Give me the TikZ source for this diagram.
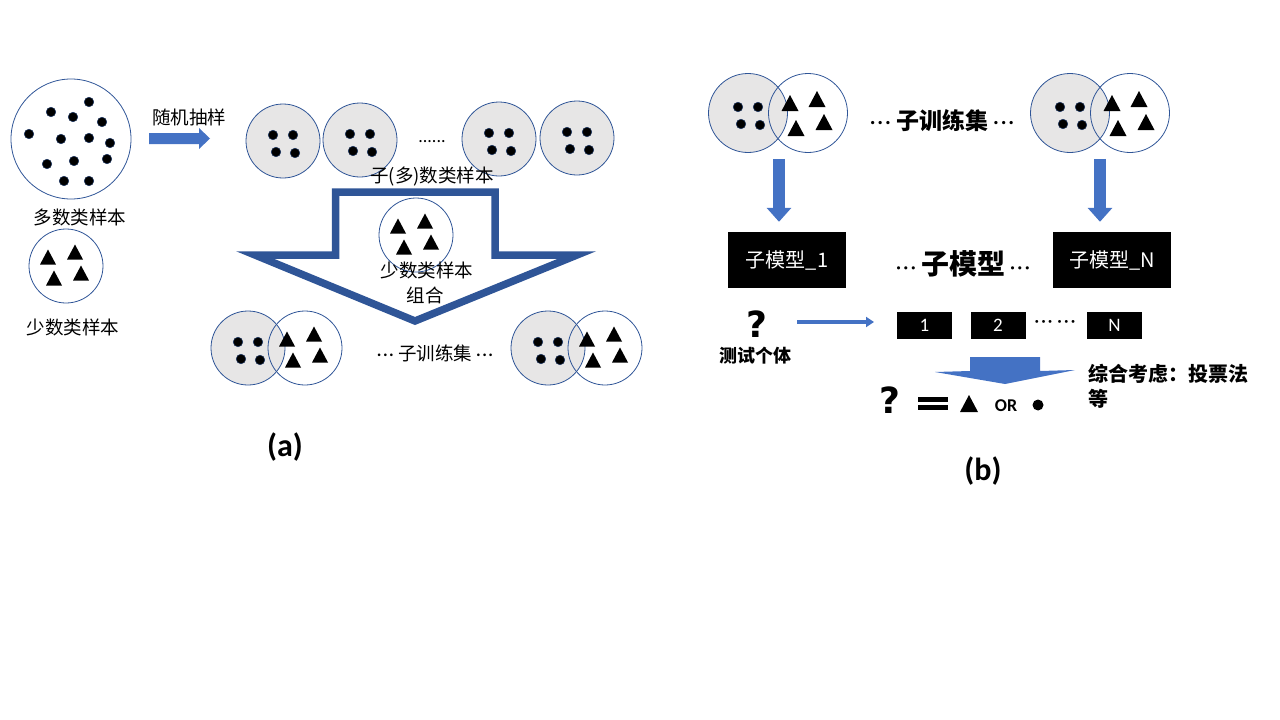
\documentclass[tikz,border=0pt]{standalone}
\usepackage{fontspec}
\setmainfont{Carlito}
\newfontfamily\cjk{Noto Sans CJK SC}
\newfontfamily\heavy{DejaVu Sans}
\usetikzlibrary{arrows.meta}
\definecolor{ringblue}{HTML}{2F5597}
\definecolor{fillgray}{HTML}{E7E6E6}
\definecolor{arrowblue}{HTML}{4472C4}
\definecolor{darkarrow}{HTML}{2F5597}
\definecolor{dotedge}{HTML}{1F3864}
\newcommand\md{{\rmfamily\mdseries ·\kern0.08em·\kern0.08em·}}
\newcommand\fourdots[1]{\foreach \dx/\dy in {-10/-6,10/-6,-7/11,12/12}
  \filldraw[dotsty] ([shift={(\dx,\dy)}]#1.center) circle (4.8pt);}
\newcommand\fourtris[1]{\foreach \dx/\dy in {-18/-9,9/-14,-12/12,15/7}
  \fill ([shift={(\dx,\dy)}]#1.center) ++(-8,7.5) -- ++(16,0) -- ++(-8,-15) -- cycle;}
\newcommand\fourtrisb[1]{\foreach \dx/\dy in {-18/-10,9/-14,-12/15,16/9}
  \fill ([shift={(\dx,\dy)}]#1.center) ++(-8.5,8) -- ++(17,0) -- ++(-8.5,-16) -- cycle;}
\begin{document}
\begin{tikzpicture}[x=1pt,y=-1pt,
  ring/.style={circle,draw=ringblue,line width=0.8pt,minimum size=74pt,inner sep=0pt},
  gring/.style={ring,fill=fillgray},
  bring/.style={ring,minimum size=79pt},
  gbring/.style={gring,minimum size=79pt},
  dotsty/.style={fill=black,draw=dotedge,line width=0.5pt},
  lab/.style={font=\cjk\fontsize{18.5}{20}\selectfont,inner sep=0pt},
  blab/.style={font=\cjk\bfseries\fontsize{18}{20}\selectfont,inner sep=0pt},
  blackbox/.style={fill=black,text=white,font=\cjk\fontsize{20}{22}\selectfont,minimum width=118pt,minimum height=56pt,inner sep=0pt},
  numbox/.style={fill=black,text=white,font=\fontsize{19}{21}\selectfont,minimum width=55pt,minimum height=27pt,inner sep=0pt},
  qmark/.style={font=\heavy\bfseries\fontsize{36}{38}\selectfont,inner sep=0pt},
  fatarr/.style={draw=arrowblue,line width=12pt,-{Triangle[length=14pt,width=24pt,color=arrowblue]}},
  thinarr/.style={draw=arrowblue,line width=3.2pt,-{Triangle[length=8pt,width=10pt,color=arrowblue]}},
  hollowarrow/.style={draw=darkarrow,line width=7.5pt,line join=miter},
]
\useasboundingbox (0,0) rectangle (1280,720);

% ---------------- (a) ----------------
\node[ring,minimum size=120pt] (maj) at (71,139) {};
\foreach \x/\y in {89/102,51/112,73/117,102/122,29/134,61/139,89/138,110/143,47/164,74/161,107/159,64/181,89/181}
  \filldraw[dotsty] (\x,\y) circle (4.8pt);
\node[lab] (majl) at (80,217) {多数类样本};
\node[ring] (min) at (66,266) {};
\fourtris{min}
\node[lab] (minl) at (73,327) {少数类样本};

\node[lab] (samp) at (189,117) {随机抽样};
\fill[arrowblue] (149,133) -- (199,133) -- (199,128) -- (210,138.5) -- (199,149) -- (199,144) -- (149,144) -- cycle;

\node[gring] (s1) at (283,141) {};
\node[gring] (s2) at (360,140) {};
\node[gring] (s3) at (499,139) {};
\node[gring] (s4) at (577,138) {};
\fourdots{s1}\fourdots{s2}\fourdots{s3}\fourdots{s4}
\node[font=\fontsize{18}{20}\selectfont,inner sep=0pt,anchor=base] (sdots) at (432,142) {......};
\node[lab] (subl) at (432,177) {子(多)数类样本};

\draw[hollowarrow] (335.5,192) -- (495,192) -- (495,255) -- (577,255) -- (415,321) -- (255,255) -- (335.5,255) -- cycle;

\node[ring] (mc) at (416,235) {};
\fourtris{mc}
\node[lab] (mcl) at (427,270) {少数类样本};
\node[lab] (comb) at (425,295) {组合};

\node[gring] (p1g) at (248,348) {};
\node[ring] (p1w) at (305,348) {};
\fourdots{p1g}\fourtris{p1w}
\node[gring] (p2g) at (548,348) {};
\node[ring] (p2w) at (605,348) {};
\fourdots{p2g}\fourtris{p2w}
\node[lab] (trl) at (435,353) {\md{} 子训练集 \md};

\node[font=\bfseries\fontsize{32}{34}\selectfont,inner sep=0pt] (capa) at (285,447) {(a)};

% ---------------- (b) ----------------
\node[gbring] (g1) at (748,113) {};
\node[bring] (w1) at (808,113) {};
\fourdots{g1}\fourtrisb{w1}
\node[gbring] (g2) at (1070,113) {};
\node[bring] (w2) at (1130,113) {};
\fourdots{g2}\fourtrisb{w2}
\node[font=\cjk\fontsize{23}{25}\selectfont,inner sep=0pt] (trlb) at (942,121) {\md{} {\bfseries 子训练集} \md};

\node[blackbox] (m1) at (787,260) {子模型\_1};
\node[blackbox] (m2) at (1112,260) {子模型\_N};
\draw[fatarr] ([xshift=31pt,yshift=-6pt]g1.south) -- ([xshift=-8pt,yshift=10pt]m1.north);
\draw[fatarr] ([xshift=30pt,yshift=-6pt]g2.south) -- ([xshift=-12pt,yshift=10pt]m2.north);
\node[font=\cjk\fontsize{22}{24}\selectfont,inner sep=0pt] (mm) at (963,264) {\md{} {\bfseries\fontsize{28}{30}\selectfont 子模型} \md};

\node[qmark] (q) at (757,324) {?};
\node[blab] (ql) at (755,356) {测试个体};
\coordinate (ta) at (797,322);
\coordinate (tb) at (874,322);
\draw[thinarr] (ta) -- (tb);

\node[numbox] (n1) at (924.5,325.5) {1};
\node[numbox] (n2) at (998,325.5) {2};
\node[numbox] (nN) at (1114.5,325.5) {N};
\node[font=\fontsize{20}{22}\selectfont,inner sep=0pt] (ndots) at (1055,324) {\md{} \md};

\fill[arrowblue] (970,357) -- (1040,357) -- (1040,371) -- (1075,370) -- (1005,384) -- (935,372) -- (970,371) -- cycle;

\node[qmark] (q2) at (890,400) {?};
\fill (918,397) rectangle (948,402);
\fill (918,405) rectangle (948,410);
\fill (960,412) -- (978,412) -- (969,395) -- cycle;
\node[font=\bfseries\fontsize{18}{20}\selectfont,inner sep=0pt] (or) at (1006,406) {OR};
\fill (1038,405) circle (5.5pt);

\node[blab,font=\cjk\bfseries\fontsize{20}{22}\selectfont,anchor=west] (vote) at (1088,374) {综合考虑：投票法};
\node[blab,font=\cjk\bfseries\fontsize{20}{22}\selectfont,anchor=west] (vote2) at (1088,399) {等};

\node[font=\bfseries\fontsize{32}{34}\selectfont,inner sep=0pt] (capb) at (983,471) {(b)};
\end{tikzpicture}
\end{document}
